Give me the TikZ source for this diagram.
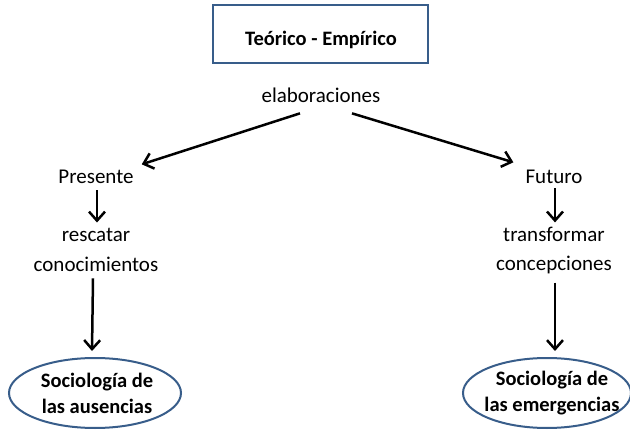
\documentclass[tikz,border=0pt]{standalone}
\usepackage{fontspec}
\setmainfont{Carlito}
\usetikzlibrary{arrows.meta,shapes.geometric}
\definecolor{frameblue}{RGB}{56,93,138}
\begin{document}
\begin{tikzpicture}[x=1pt,y=-1pt,
  txt/.style={font=\fontsize{21}{30}\selectfont,inner sep=0pt,anchor=base},
  btxt/.style={font=\fontsize{20.5}{26}\selectfont\bfseries,inner sep=0pt,align=center},
  topbox/.style={draw=frameblue,line width=2pt,minimum width=215pt,minimum height=58pt,inner sep=0pt},
  oval/.style={ellipse,draw=frameblue,line width=2pt,minimum width=172pt,minimum height=70pt,inner sep=0pt},
  arr/.style={line width=2.5pt,-{Straight Barb[length=9pt,width=16pt,line width=2.5pt]}},
  vline/.style={line width=2.5pt}]
\useasboundingbox (0,0) rectangle (630,433);
\node[topbox] (top) at (320.5,34) {};
\node[btxt,anchor=base] (toptext) at (321,46) {Teórico - Empírico};
\node[txt] (elab) at (321,103) {elaboraciones};
\node[txt] (pres) at (96,184) {Presente};
\node[txt] (fut) at (554,184) {Futuro};
\node[txt] (resc) at (96,242) {rescatar};
\node[txt] (conoc) at (96,272) {conocimientos};
\node[txt] (trans) at (554,242) {transformar};
\node[txt] (conce) at (554,271) {concepciones};
\node[oval] (ausen) at (95,393) {};
\node[btxt] (ausentext) at (97,393) {Sociología de\\las ausencias};
\node[oval,minimum width=168pt] (emer) at (547,393) {};
\node[btxt] (emertext) at (552,393) {Sociología de\\las emergencias};
\draw[arr] ([shift={(-21,10)}]elab.south) -- ([shift={(8,-6)}]pres.north east);
\draw[arr] ([shift={(31,10)}]elab.south) -- ([shift={(-12,-8)}]fut.north west);
\draw[arr] ([shift={(1,6)}]pres.south) -- ([shift={(1,-6)}]resc.north);
\draw[arr] ([shift={(1,4)}]fut.south) -- ([shift={(1,-5)}]trans.north);
\draw[arr] ([shift={(-3,6)}]conoc.south) -- ([shift={(-3,-6)}]ausen.north);
\draw[arr] ([shift={(1,8)}]conce.south) -- ([shift={(8,-6)}]emer.north);
\end{tikzpicture}
\end{document}
